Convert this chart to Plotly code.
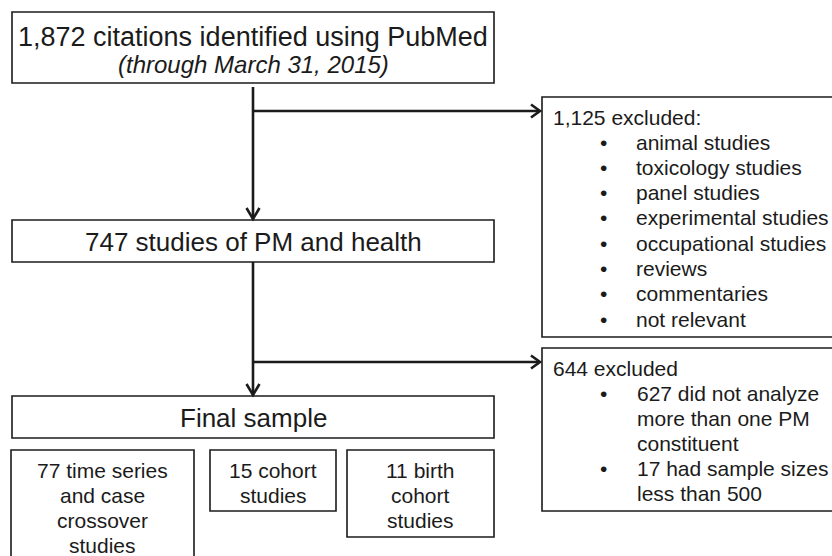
import plotly.graph_objects as go

# ---------------- data (flow counts and texts) ----------------
identified = 1872
search_period = "(through March 31, 2015)"
studies_pm_health = 747
excluded_first = 1125
excluded_first_reasons = ["animal studies", "toxicology studies", "panel studies",
                          "experimental studies", "occupational studies", "reviews",
                          "commentaries", "not relevant"]
excluded_second = 644
excluded_second_counts = [627, 17]
excluded_second_reasons = [["did not analyze", "more than one PM", "constituent"],
                           ["had sample sizes", "less than 500"]]
final_label = "Final sample"
design_counts = [77, 15, 11]
design_lines = [["time series", "and case", "crossover", "studies"],
                ["cohort", "studies"],
                ["birth", "cohort", "studies"]]

# ---------------- layout geometry (pixels) ----------------
W, H = 832, 556
INK = "#1b1b1b"
FONT = "Liberation Sans, Arial, Helvetica, sans-serif"
BOX_W = 1.6
LINE_W = 2.6

main_x0, main_x1 = 12, 494
main_cx = 253
box1 = (main_x0, 12, main_x1, 83)
box2 = (main_x0, 220, main_x1, 262)
box_final = (main_x0, 396, main_x1, 438)
excl1_box = (542, 97, 845, 337)
excl2_box = (542, 348, 845, 511)
design_boxes = [(11, 450, 194, 562), (210, 450, 336, 511), (347, 450, 494, 537)]
branch1_y, branch2_y = 111, 362
arrow_tip_x = 540

shapes, annos = [], []

def rect(b):
    shapes.append(dict(type="rect", xref="x", yref="y", x0=b[0], y0=b[1], x1=b[2], y1=b[3],
                       line=dict(color=INK, width=BOX_W), fillcolor="white", layer="below"))

def seg(x0, y0, x1, y1):
    shapes.append(dict(type="line", xref="x", yref="y", x0=x0, y0=y0, x1=x1, y1=y1,
                       line=dict(color=INK, width=LINE_W)))

def head_down(x, y):
    shapes.append(dict(type="path", xref="x", yref="y",
                       path=f"M {x-6.5},{y-12} L {x},{y-1} L {x+6.5},{y-12}",
                       line=dict(color=INK, width=LINE_W)))

def head_right(x, y):
    shapes.append(dict(type="path", xref="x", yref="y",
                       path=f"M {x-9},{y-6.5} L {x},{y} L {x-9},{y+6.5}",
                       line=dict(color=INK, width=LINE_W)))

def text(x, y, s, size, anchor="center", italic=False):
    annos.append(dict(x=x, y=y, xref="x", yref="y", text=s, showarrow=False,
                      xanchor=anchor, yanchor="middle",
                      font=dict(family=FONT, size=size, color=INK,
                                style="italic" if italic else "normal")))

for b in [box1, box2, box_final, excl1_box, excl2_box] + design_boxes:
    rect(b)

# connectors
seg(main_cx, 87, main_cx, box2[1] - 1)
head_down(main_cx, box2[1])
seg(main_cx, branch1_y, arrow_tip_x - 1, branch1_y)
head_right(arrow_tip_x, branch1_y)
seg(main_cx, box2[3], main_cx, box_final[1] - 1)
head_down(main_cx, box_final[1])
seg(main_cx, branch2_y, arrow_tip_x - 1, branch2_y)
head_right(arrow_tip_x, branch2_y)

# main column texts
text(main_cx, 37, f"{identified:,} citations identified using PubMed", 27)
text(main_cx, 64, search_period, 24, italic=True)
text(main_cx, 242, f"{studies_pm_health} studies of PM and health", 26)
text(main_cx, 418, final_label, 26)

# first exclusion box
LS = 25.3
text(551, 117, f"{excluded_first:,} excluded:", 21, anchor="left")
for i, r in enumerate(excluded_first_reasons):
    y = 142 + i * LS
    text(603, y, "•", 21)
    text(634, y, r, 21, anchor="left")

# second exclusion box
text(551, 368, f"{excluded_second} excluded", 21, anchor="left")
row = 0
for c, lines in zip(excluded_second_counts, excluded_second_reasons):
    for j, ln in enumerate(lines):
        y = 393.5 + row * 25
        if j == 0:
            text(603, y, "•", 21)
            ln = f"{c} {ln}"
        text(635, y, ln, 21, anchor="left")
        row += 1

# study design boxes
for b, c, lines in zip(design_boxes, design_counts, design_lines):
    cx = (b[0] + b[2]) / 2
    for j, ln in enumerate(lines):
        s = f"{c} {ln}" if j == 0 else ln
        text(cx, 470 + j * 25.3, s, 21)

fig = go.Figure()
fig.update_layout(
    width=W, height=H, margin=dict(l=0, r=0, t=0, b=0),
    paper_bgcolor="white", plot_bgcolor="white",
    xaxis=dict(range=[0, W], visible=False, fixedrange=True),
    yaxis=dict(range=[H, 0], visible=False, fixedrange=True),
    shapes=shapes, annotations=annos, showlegend=False,
)
fig.write_html("out.html", post_script="document.body.style.margin='0';",
               config={"displayModeBar": False})
